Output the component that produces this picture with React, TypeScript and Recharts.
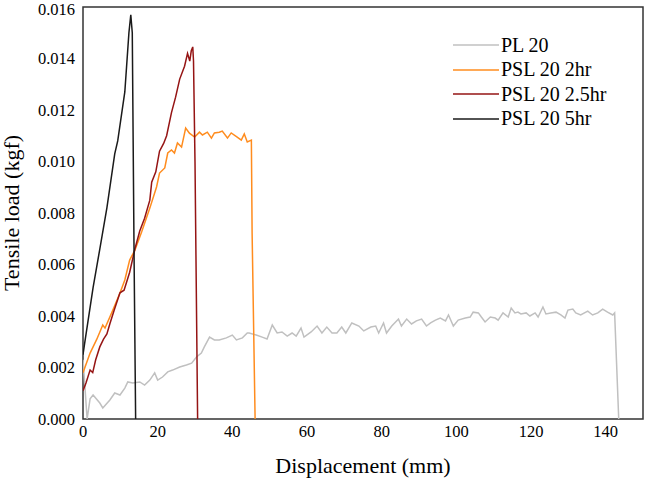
import React from 'react';
import { LineChart, Line, XAxis, YAxis, Legend, ReferenceArea } from 'recharts';

const FONT = '"Liberation Serif", "Times New Roman", serif';

// PL 20
const PL20_X = [0, 0.4, 1.1, 1.9, 2.7, 4.5, 5.3, 7.2, 8.5, 9.9, 11.2, 12.0, 13.3, 15.2, 16.5, 17.9, 19.2, 20.0, 21.3, 22.7, 24.0, 25.9, 27.7, 29.1, 30.4, 31.7, 32.5, 33.9, 35.2, 36.5, 38.4, 40.0, 41.1, 42.7, 44.0, 44.5, 46.4, 48.0, 49.3, 50.7, 52.0, 53.3, 54.7, 56.0, 57.1, 58.4, 59.2, 61.1, 62.7, 64.0, 65.3, 66.7, 68.0, 69.3, 70.4, 72.0, 73.9, 75.2, 77.1, 78.4, 79.2, 80.5, 81.3, 82.7, 84.5, 85.3, 86.7, 88.0, 89.3, 90.7, 92.0, 93.1, 94.4, 95.7, 97.1, 97.9, 99.2, 100.5, 102.4, 103.7, 104.5, 105.9, 106.7, 107.7, 109.1, 110.4, 111.2, 112.5, 113.9, 114.7, 115.7, 116.5, 117.3, 118.7, 119.7, 121.1, 121.9, 123.2, 124.0, 125.3, 126.7, 128.0, 129.1, 129.9, 131.2, 132.0, 133.3, 135.2, 136.5, 137.9, 139.2, 140.5, 141.9, 142.4, 143.5];
const PL20_Y = [0.0023, 0.0015, 0, 0.00078, 0.00093, 0.00062, 0.00043, 0.00074, 0.00101, 0.00093, 0.0012, 0.00144, 0.0014, 0.00144, 0.00132, 0.00151, 0.00179, 0.00151, 0.00163, 0.00183, 0.0019, 0.00202, 0.0021, 0.00217, 0.00241, 0.00256, 0.0028, 0.00318, 0.00307, 0.00307, 0.00315, 0.00326, 0.00307, 0.00315, 0.00334, 0.00334, 0.00326, 0.00318, 0.00311, 0.00365, 0.00334, 0.00338, 0.00322, 0.00334, 0.00322, 0.00353, 0.00318, 0.00338, 0.00361, 0.00334, 0.00357, 0.00334, 0.00334, 0.00357, 0.00334, 0.00373, 0.00361, 0.00342, 0.00357, 0.00361, 0.00334, 0.00373, 0.00334, 0.00361, 0.00388, 0.00361, 0.00388, 0.00369, 0.00381, 0.00388, 0.00361, 0.00373, 0.00384, 0.00392, 0.00381, 0.00404, 0.00361, 0.00384, 0.00392, 0.00396, 0.00415, 0.00412, 0.00396, 0.00377, 0.00396, 0.00392, 0.00384, 0.00412, 0.00396, 0.00431, 0.00412, 0.00415, 0.00408, 0.00412, 0.004, 0.00412, 0.00396, 0.00435, 0.00408, 0.00412, 0.00415, 0.00404, 0.00392, 0.00423, 0.00427, 0.00412, 0.00404, 0.00419, 0.00404, 0.00412, 0.00427, 0.00415, 0.00404, 0.00412, 0];

// PSL 20 2hr
const PSL2_X = [0, 1.9, 3.7, 5.3, 5.9, 8.0, 9.9, 11.2, 12.5, 13.9, 15.7, 17.9, 19.7, 20.5, 21.9, 22.7, 23.7, 24.5, 25.3, 26.4, 27.5, 28.5, 29.9, 31.2, 32.0, 33.3, 34.4, 35.2, 36.5, 37.3, 38.7, 39.7, 41.3, 42.4, 43.2, 44.0, 45.1, 45.3, 46.1];
const PSL2_Y = [0.0018, 0.00256, 0.0031, 0.00365, 0.00353, 0.00423, 0.00489, 0.0054, 0.00617, 0.00656, 0.00726, 0.00819, 0.00901, 0.00955, 0.00975, 0.01033, 0.01045, 0.01033, 0.01072, 0.01056, 0.0113, 0.0111, 0.01095, 0.01114, 0.01103, 0.01114, 0.01091, 0.01111, 0.01114, 0.01118, 0.01091, 0.01111, 0.01095, 0.01083, 0.01107, 0.01076, 0.01083, 0.0072, 0];

// PSL 20 2.5hr
const PSL25_X = [0, 0.8, 1.9, 2.6, 3.4, 4.5, 5.5, 6.4, 7.2, 8.3, 9.9, 11.0, 12.5, 13.9, 15.2, 16.5, 17.9, 18.4, 19.5, 20.5, 21.6, 22.4, 23.7, 24.8, 25.9, 27.2, 28.0, 28.6, 29.0, 29.4, 29.6, 30.0, 30.7];
const PSL25_Y = [0.0011, 0.0014, 0.0019, 0.0018, 0.0023, 0.0028, 0.0031, 0.0033, 0.0037, 0.0042, 0.0049, 0.005, 0.0057, 0.0066, 0.0073, 0.0078, 0.0085, 0.0092, 0.0096, 0.0104, 0.0107, 0.011, 0.0119, 0.0125, 0.0132, 0.0137, 0.0142, 0.0139, 0.0143, 0.01445, 0.0139, 0.01, 0];

// PSL 20 5hr
const PSL5_X = [0, 0.4, 2.7, 4.5, 6.4, 8.5, 9.3, 11.2, 12.3, 12.8, 13.2, 13.7, 14.1];
const PSL5_Y = [0.0025, 0.0029, 0.0051, 0.0066, 0.0082, 0.0103, 0.0108, 0.0127, 0.015, 0.0157, 0.015, 0.006, 0];

const X_TICKS = [0, 20, 40, 60, 80, 100, 120, 140];
const Y_TICKS = [0, 0.002, 0.004, 0.006, 0.008, 0.01, 0.012, 0.014, 0.016];

const toData = (xs: number[], ys: number[]) => xs.map((x, i) => ({ x, y: ys[i] }));

const SERIES = [
  { name: 'PL 20', color: '#C0C0C0', data: toData(PL20_X, PL20_Y) },
  { name: 'PSL 20 2hr', color: '#FF8C1E', data: toData(PSL2_X, PSL2_Y) },
  { name: 'PSL 20 2.5hr', color: '#951414', data: toData(PSL25_X, PSL25_Y) },
  { name: 'PSL 20 5hr', color: '#1A1A1A', data: toData(PSL5_X, PSL5_Y) },
];

const renderLegend = () => (
  <div style={{ fontFamily: FONT, fontSize: 20, color: '#000' }}>
    {SERIES.map((s) => (
      <div key={s.name} style={{ display: 'flex', alignItems: 'center', height: 24.5 }}>
        <svg width={46} height={4} style={{ display: 'block' }}>
          <line x1={0} y1={2} x2={46} y2={2} stroke={s.color} strokeWidth={1.5} />
        </svg>
        <span style={{ marginLeft: 2, whiteSpace: 'nowrap' }}>{s.name}</span>
      </div>
    ))}
  </div>
);

const XTick = (props: any) => {
  const { x, y, payload } = props;
  return (
    <text x={x} y={y + 12} textAnchor="middle" fontSize={16.5} fill="#000" fontFamily="Times New Roman">
      {payload.value}
    </text>
  );
};

const YTick = (props: any) => {
  const { x, y, payload } = props;
  return (
    <text x={x} y={y + 5.5} textAnchor="end" fontSize={16.5} fill="#000" fontFamily="Times New Roman">
      {Number(payload.value).toFixed(3)}
    </text>
  );
};

const XTitle = (props: any) => {
  const vb = props.viewBox || { x: 83, y: 419, width: 560 };
  return (
    <text x={vb.x + vb.width / 2} y={vb.y + 54} textAnchor="middle" fontSize={22} fill="#000" fontFamily="serif">
      Displacement (mm)
    </text>
  );
};

const YTitle = (props: any) => {
  const vb = props.viewBox || { x: 0, y: 7, height: 412 };
  const cx = 19;
  const cy = vb.y + vb.height / 2;
  return (
    <text transform={`translate(${cx}, ${cy}) rotate(-90)`} x={0} y={0} textAnchor="middle" fontSize={22} fill="#000" fontFamily="serif">
      Tensile load (kgf)
    </text>
  );
};

export default function App() {
  return (
    <div style={{ position: 'absolute', left: 0, top: 0, background: '#fff' }}>
      <LineChart width={645} height={482} margin={{ top: 7, right: 2, left: 0, bottom: 0 }}>
        <XAxis
          type="number"
          dataKey="x"
          domain={[0, 150]}
          ticks={X_TICKS}
          allowDataOverflow
          axisLine={false}
          tickLine={false}
          tickSize={0}
          tickMargin={6}
          height={63}
          tick={<XTick />}
          label={{ content: XTitle }}
        />
        <YAxis
          type="number"
          dataKey="y"
          domain={[0, 0.016]}
          ticks={Y_TICKS}
          allowDataOverflow
          axisLine={false}
          tickLine={false}
          tickSize={0}
          tickMargin={8}
          width={83}
          tick={<YTick />}
          label={{ content: YTitle }}
        />
        {SERIES.map((s) => (
          <Line
            key={s.name}
            data={s.data}
            dataKey="y"
            name={s.name}
            type="linear"
            stroke={s.color}
            strokeWidth={1.5}
            dot={false}
            activeDot={false}
            isAnimationActive={false}
          />
        ))}
        <ReferenceArea x1={0} x2={150} y1={0} y2={0.016} fill="none" stroke="#333" strokeWidth={1.5} ifOverflow="visible" />
        <Legend
          layout="vertical"
          align="center"
          verticalAlign="middle"
          content={renderLegend}
          wrapperStyle={{ left: 453, top: 33, width: 190 }}
        />
      </LineChart>
    </div>
  );
}
